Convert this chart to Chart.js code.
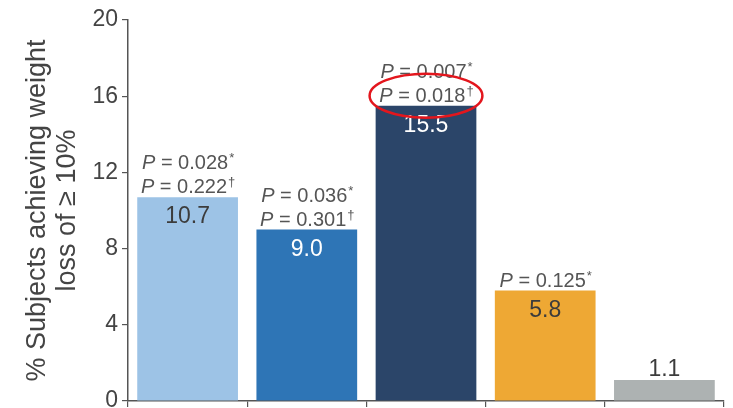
<!DOCTYPE html>
<html>
<head>
<meta charset="utf-8">
<script src="https://cdn.jsdelivr.net/npm/chart.js@4/dist/chart.umd.min.js"></script>
<style>
  html, body { margin: 0; padding: 0; background: #fff; }
  #wrap { width: 733px; height: 408px; }
</style>
</head>
<body>
<div id="wrap"><canvas id="chart"></canvas></div>
<script>
var groups = ['1', '2', '3', '4', '5'];
var values = [10.7, 9.0, 15.5, 5.8, 1.1];
var pStar = ['0.028', '0.036', '0.007', '0.125', null];   // marked with *
var pDagger = ['0.222', '0.301', '0.018', null, null];   // marked with †
var yTicks = [0, 4, 8, 12, 16, 20];

var barColors = ['#9dc3e6', '#2e75b6', '#2b4569', '#eea834', '#adb2b2'];
var valueColors = ['#3c3c3c', '#ffffff', '#ffffff', '#3c3c3c', '#3c3c3c'];
var FONT = '"Liberation Sans", Arial, sans-serif';

// draws "P = x.xxx" with italic P and a small raised mark
function drawP(ctx, cx, baseline, value, mark) {
  var big = '20px ' + FONT, small = '13px ' + FONT;
  ctx.font = 'italic ' + big;
  var wP = ctx.measureText('P').width;
  ctx.font = big;
  var rest = ' = ' + value;
  var wR = ctx.measureText(rest).width;
  ctx.font = small;
  var wM = ctx.measureText(mark).width;
  var x = cx - (wP + wR + wM) / 2;
  ctx.fillStyle = '#555555';
  ctx.textAlign = 'left';
  ctx.textBaseline = 'alphabetic';
  ctx.font = 'italic ' + big;
  ctx.fillText('P', x, baseline);
  ctx.font = big;
  ctx.fillText(rest, x + wP, baseline);
  ctx.font = small;
  ctx.fillText(mark, x + wP + wR + 1, baseline - 7);
}

var labelPlugin = {
  id: 'barLabels',
  afterDatasetsDraw: function (chart) {
    var ctx = chart.ctx;
    var bars = chart.getDatasetMeta(0).data;
    ctx.save();
    bars.forEach(function (bar, i) {
      // value labels
      ctx.font = '23px ' + FONT;
      ctx.textAlign = 'center';
      ctx.textBaseline = 'alphabetic';
      ctx.fillStyle = valueColors[i];
      var tall = bar.base - bar.y > 40;
      ctx.fillText(values[i].toFixed(1), bar.x, tall ? bar.y + 26 : bar.y - 4);

      // P values
      if (pDagger[i]) {
        drawP(ctx, bar.x, bar.y - 4, pDagger[i], '\u2020');
        if (pStar[i]) drawP(ctx, bar.x, bar.y - 28, pStar[i], '*');
      } else if (pStar[i]) {
        drawP(ctx, bar.x, bar.y - 4, pStar[i], '*');
      }
    });

    // highlight around the second P value of group 3
    var b = bars[2];
    ctx.beginPath();
    ctx.ellipse(b.x, b.y - 10, b.width * 0.56, 22, 0, 0, Math.PI * 2);
    ctx.strokeStyle = '#e3161d';
    ctx.lineWidth = 2.5;
    ctx.stroke();
    ctx.restore();
  }
};

new Chart(document.getElementById('chart'), {
  type: 'bar',
  data: {
    labels: groups,
    datasets: [{
      data: values,
      backgroundColor: barColors,
      borderWidth: 0,
      categoryPercentage: 1.0,
      barPercentage: 0.845
    }]
  },
  options: {
    responsive: true,
    maintainAspectRatio: false,
    animation: false,
    layout: { padding: { top: 20, right: 9, bottom: 0, left: 0 } },
    plugins: {
      legend: { display: false },
      tooltip: { enabled: false }
    },
    scales: {
      x: {
        grid: {
          offset: true,
          drawOnChartArea: false,
          drawTicks: true,
          tickLength: 6,
          color: '#555555',
          lineWidth: 1.2
        },
        border: { color: '#555555', width: 1.5 },
        ticks: { display: false },
        afterFit: function (scale) { scale.height = 7; }
      },
      y: {
        min: 0,
        max: 20,
        afterBuildTicks: function (scale) {
          scale.ticks = yTicks.map(function (v) { return { value: v }; });
        },
        grid: {
          drawOnChartArea: false,
          tickLength: 6,
          color: '#555555',
          lineWidth: 1.2
        },
        border: { color: '#555555', width: 1.5 },
        ticks: {
          color: '#444444',
          font: { family: FONT, size: 23 },
          padding: 4
        },
        title: {
          display: true,
          text: ['% Subjects achieving weight', 'loss of \u2265 10%'],
          color: '#444444',
          font: { family: FONT, size: 27, lineHeight: 1.12 },
          padding: { top: 22, bottom: 0 }
        },
        afterFit: function (scale) {
          scale.width = 128;
          scale.paddingTop = 0;
          scale.paddingBottom = 0;
        }
      }
    }
  },
  plugins: [labelPlugin]
});
</script>
</body>
</html>
